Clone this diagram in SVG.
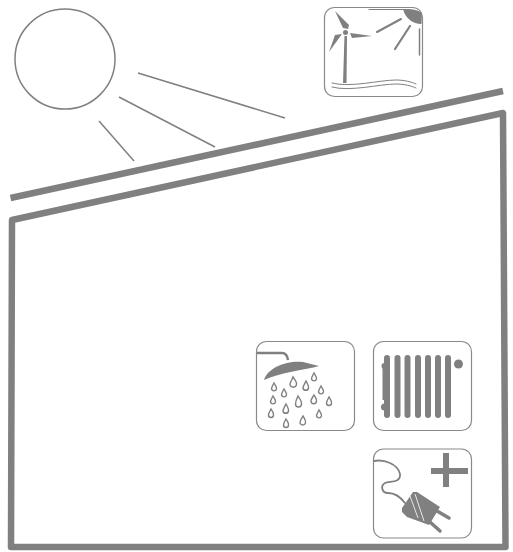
<svg xmlns="http://www.w3.org/2000/svg" width="513" height="552" viewBox="0 0 513 552">
<style>
.fr{fill:#fff;stroke:#8a8a8a;stroke-width:1.2}
.g{fill:#808080}
.l{fill:none;stroke:#808080;stroke-linecap:round}
.r{fill:none;stroke:#808080;stroke-width:1.5}
.d{fill:#fff;stroke:#808080;stroke-width:1.4}
.bar{fill:none;stroke:#808080;stroke-width:6;stroke-linecap:round}
</style>
<rect width="513" height="552" fill="#fff"/>
<g id="building">
<path d="M503 113 L505.500 547 L11 547 L12 220 Z" fill="none" stroke="#808080" stroke-width="6.500" stroke-linejoin="round"/>
</g>
<g id="roof">
<path d="M10.500 198 L503 91" fill="none" stroke="#808080" stroke-width="6.500"/>
</g>
<g id="sun">
<circle cx="65" cy="59" r="50" fill="#fff" stroke="#808080" stroke-width="1.500"/>
</g>
<g id="connectors">
<path d="M138 73 L285 118" fill="none" stroke="#808080" stroke-width="1.500"/>
<path d="M119 97 L215 147" fill="none" stroke="#808080" stroke-width="1.500"/>
<path d="M99 121 L134 161" fill="none" stroke="#808080" stroke-width="1.500"/>
</g>
<g id="wind-sun-icon">
<rect class="fr" x="324.500" y="7.500" width="98" height="89" rx="10"/>
<path class="g" d="M403 9 C411 8.500 421 10 422 14 L421.500 24 C413 24 405 18 403 9 Z"/>
<path class="l" stroke-width="1" d="M369 9.500 L403 9.500"/>
<path class="l" stroke-width="2" d="M377 32 L401 19"/>
<path class="l" stroke-width="2.200" d="M395 49 L410 26"/>
<path class="l" stroke-width="1.500" d="M419.500 29 L419.500 55"/>
<path class="g" d="M344.500 36 L347 36 L346.500 83 L343 83 Z"/>
<circle class="g" cx="345.500" cy="32.500" r="2.500"/>
<path class="g" d="M335 11 L349 25 L348 29 L343 28 Z"/>
<path class="g" d="M350 33 L372 36 L352 38 Z"/>
<path class="g" d="M342 34 L329 52 L335 35 Z"/>
<path class="l" stroke-width="1" d="M332 83 C350 88 380 80 396 80 C404 80 412 82 416 84"/>
<path class="l" stroke-width="1" d="M332 87 C350 92 380 84 396 84 C404 84 412 86 416 88"/>
</g>
<g id="shower-icon">
<rect class="fr" x="256.500" y="341.500" width="98" height="89" rx="10"/>
<path class="r" style="stroke-width:2.500" d="M257 353 L282 353 Q287 353 288 360"/>
<path class="g" d="M264 380 C268 367 288 360 303 362 L319 366 C305 370 282 372 264 380 Z"/>
<path id="drop" class="d" d="M293 377 C295 380 297 382 296.500 384.500 A3.300 3.300 0 0 1 290 384.500 C290 382 292 380 293 377 Z"/>
<path class="d" d="M314 373 C315 375 317 377 316.500 379 A2.600 2.600 0 0 1 311.500 379 C311.500 377 313 375 314 373 Z"/>
<path class="d" d="M274 383 C275 385 277 387 276.500 389 A2.600 2.600 0 0 1 271.500 389 C271.500 387 273 385 274 383 Z"/>
<path class="d" d="M284 389 C285 391 287 393 286.500 395 A2.600 2.600 0 0 1 281.500 395 C281.500 393 283 391 284 389 Z"/>
<path class="d" d="M306 381 C307 383 309 386 308.500 388 A2.800 2.800 0 0 1 303 388 C303 386 305 383 306 381 Z"/>
<path class="d" d="M321 386 C322 388 324 390 323.500 392 A2.600 2.600 0 0 1 318.500 392 C318.500 390 320 388 321 386 Z"/>
<path class="d" d="M273 396 C274 398 276 400 275.500 402 A2.600 2.600 0 0 1 270.500 402 C270.500 400 272 398 273 396 Z"/>
<path class="d" d="M298 396 C299 398 302 401 301.500 404 A3 3 0 0 1 295.500 404 C295.500 401 297 398 298 396 Z"/>
<path class="d" d="M314 395 C315 397 317 399 316.500 401 A2.700 2.700 0 0 1 311 401 C311 399 313 397 314 395 Z"/>
<path class="d" d="M329 397 C330 399 332 401 331.500 403 A2.500 2.500 0 0 1 326.500 403 C326.500 401 328 399 329 397 Z"/>
<path class="d" d="M286 404 C287 406 289 409 288.500 411 A2.800 2.800 0 0 1 283 411 C283 409 285 406 286 404 Z"/>
<path class="d" d="M271 409 C272 411 274 413 273.500 415 A2.500 2.500 0 0 1 268.500 415 C268.500 413 270 411 271 409 Z"/>
<path class="d" d="M319 410 C320 412 322 414 321.500 416 A2.600 2.600 0 0 1 316.500 416 C316.500 414 318 412 319 410 Z"/>
<path class="d" d="M303 416 C304 418 306 420 305.500 423 A2.900 2.900 0 0 1 300 423 C300 420 302 418 303 416 Z"/>
<path class="d" d="M286 419 C287 421 289 423 288.500 425 A2.500 2.500 0 0 1 283.500 425 C283.500 423 285 421 286 419 Z"/>
</g>
<g id="radiator-icon">
<rect class="fr" x="373.500" y="341.500" width="98" height="89" rx="10"/>
<path class="bar" d="M387 358 L387 415" />
<path class="g" d="M382.500 366 L385 366 L385 400 L382.500 400 Z"/>
<circle class="g" cx="384.500" cy="366" r="3"/>
<circle class="g" cx="384.500" cy="407" r="3.500"/>
<path class="bar" d="M397.500 358 L397.500 415"/>
<path class="bar" d="M407.500 358 L407.500 415"/>
<path class="bar" d="M418 358 L418 415"/>
<path class="bar" d="M428 358 L428 415"/>
<path class="bar" d="M438 358 L438 415"/>
<path class="bar" d="M448 358 L448 415"/>
<circle class="g" cx="458.500" cy="364" r="4.500"/>
</g>
<g id="plug-icon">
<rect class="fr" x="373.500" y="449" width="98" height="89" rx="10"/>
<path class="g" d="M431 468 L443 468 L443 453 L449 453 L449 468 L468 468 L468 474 L449 474 L449 487 L443 487 L443 474 L431 474 Z"/>
<path class="l" stroke-width="1.800" d="M374 461 C384 459 398 464 400 474 C401 483 390 481 385 483 C380 486 382 493 388 493 C393 493 399 495 405 503"/>
<path class="g" d="M402 508 L413 492 L417 492 L440 507 L429 525 L407 517 L402 512 Z"/>
<path d="M410 496 L418 518 M415 494 L424 521" stroke="#fff" stroke-width="0.800" fill="none"/>
<path class="l" stroke-width="3.500" d="M437 511 L449 518"/>
<path class="l" stroke-width="3.500" d="M430 522 L440 531"/>
</g>
</svg>
